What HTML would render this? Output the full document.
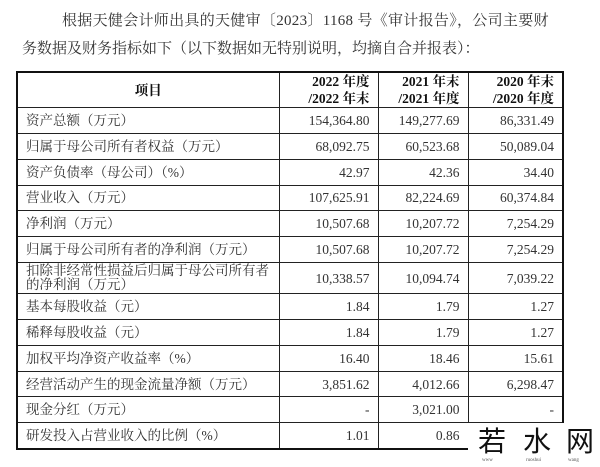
<!DOCTYPE html>
<html><head><meta charset="utf-8"><style>
body{margin:0;width:600px;height:467px;background:#fff;overflow:hidden;position:relative;font-family:"Liberation Serif","Noto Serif CJK SC",serif;color:#222}
.p{position:absolute;font-size:15px;white-space:nowrap;color:#333}
table{position:absolute;left:16px;top:71px;border-collapse:collapse;border:2px solid #111;table-layout:fixed}
td,th{border:1px solid #222;font-size:13.5px;padding:0 8px;height:24.85px;line-height:15px;color:#333}
th{height:33px;font-weight:bold;color:#111;text-align:center;line-height:17px;font-size:13.5px}
th.n{text-align:right;padding-right:8px}
td.n{text-align:right}
.wm{position:absolute;left:468px;top:423px;width:132px;height:44px;background:#fff}
.wm span{position:absolute;top:0;font-family:"Noto Sans CJK SC",sans-serif;font-size:28px;line-height:34px;color:#111}
.wm i{position:absolute;top:35px;font-size:5px;color:#555;font-style:normal}
</style></head><body>
<div class="p" style="left:62px;top:9px;letter-spacing:0.3px">根据天健会计师出具的天健审〔2023〕1168 号《审计报告》，公司主要财</div>
<div class="p" style="left:22px;top:37px">务数据及财务指标如下（以下数据如无特别说明，均摘自合并报表）：</div>
<table>
<colgroup><col style="width:262px"><col style="width:99px"><col style="width:90px"><col style="width:95px"></colgroup>
<tr><th>项目</th><th class="n">2022 年度<br>/2022 年末</th><th class="n">2021 年末<br>/2021 年度</th><th class="n">2020 年末<br>/2020 年度</th></tr>
<tr><td>资产总额（万元）</td><td class="n">154,364.80</td><td class="n">149,277.69</td><td class="n">86,331.49</td></tr>
<tr><td>归属于母公司所有者权益（万元）</td><td class="n">68,092.75</td><td class="n">60,523.68</td><td class="n">50,089.04</td></tr>
<tr><td>资产负债率（母公司）（%）</td><td class="n">42.97</td><td class="n">42.36</td><td class="n">34.40</td></tr>
<tr><td>营业收入（万元）</td><td class="n">107,625.91</td><td class="n">82,224.69</td><td class="n">60,374.84</td></tr>
<tr><td>净利润（万元）</td><td class="n">10,507.68</td><td class="n">10,207.72</td><td class="n">7,254.29</td></tr>
<tr><td>归属于母公司所有者的净利润（万元）</td><td class="n">10,507.68</td><td class="n">10,207.72</td><td class="n">7,254.29</td></tr>
<tr><td style="line-height:14px;padding-top:1px;padding-bottom:1px">扣除非经常性损益后归属于母公司所有者的净利润（万元）</td><td class="n">10,338.57</td><td class="n">10,094.74</td><td class="n">7,039.22</td></tr>
<tr><td>基本每股收益（元）</td><td class="n">1.84</td><td class="n">1.79</td><td class="n">1.27</td></tr>
<tr><td>稀释每股收益（元）</td><td class="n">1.84</td><td class="n">1.79</td><td class="n">1.27</td></tr>
<tr><td>加权平均净资产收益率（%）</td><td class="n">16.40</td><td class="n">18.46</td><td class="n">15.61</td></tr>
<tr><td>经营活动产生的现金流量净额（万元）</td><td class="n">3,851.62</td><td class="n">4,012.66</td><td class="n">6,298.47</td></tr>
<tr><td>现金分红（万元）</td><td class="n">-</td><td class="n">3,021.00</td><td class="n">-</td></tr>
<tr><td>研发投入占营业收入的比例（%）</td><td class="n">1.01</td><td class="n">0.86</td><td class="n"></td></tr>
</table>
<div class="wm"><span style="left:10px">若</span><span style="left:55px">水</span><span style="left:98px">网</span>
<i style="left:14px">www</i><i style="left:58px">ruoshui</i><i style="left:100px">wang</i></div>
</body></html>
